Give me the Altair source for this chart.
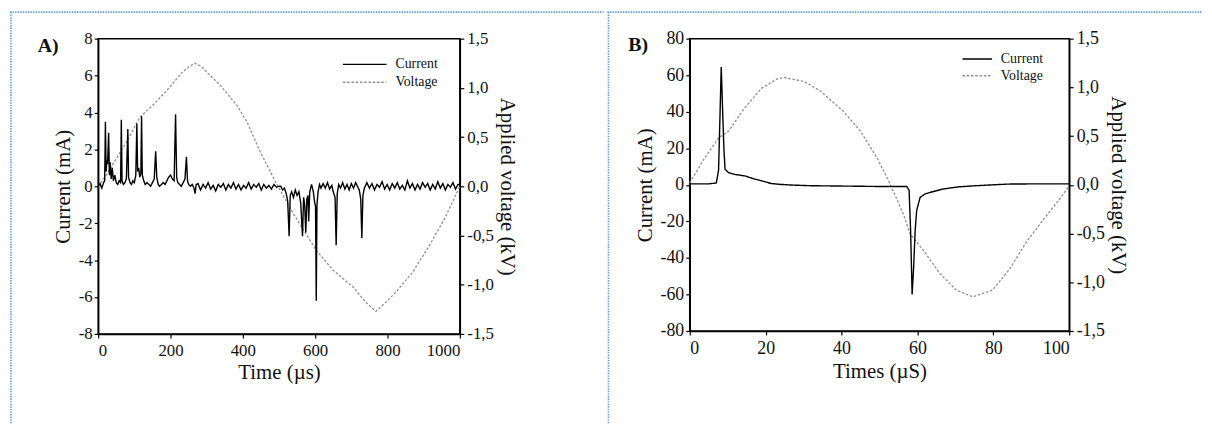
import altair as alt
import pandas as pd

# ---------------- Panel A data (time in µs, current in mA, voltage in kV) ----------------
time_a = [
    0, 5, 10, 15, 18, 20, 22, 24, 26, 29, 31, 33, 36, 39, 42, 46, 50, 54, 58,
    62, 64, 66, 70, 74, 78, 82, 84, 88, 92, 96, 100, 104, 107, 109, 112, 115, 118, 120, 122, 126, 130,
    135, 140, 145, 150, 155, 159, 162, 166, 170, 175, 180, 185, 190, 195, 200, 205, 210, 214, 217, 220,
    225, 230, 235, 240, 244, 247, 250, 255, 260, 265, 268, 271,
    276, 283, 290, 297, 304, 311, 318, 325, 332, 339, 346, 353, 360, 367, 374, 381, 388, 395, 402, 409,
    416, 423, 430, 437, 444, 451, 458, 465, 472, 479, 486, 493, 500,
    505, 510, 515, 520, 524, 528, 531, 535, 540, 545, 550, 555, 560, 565, 568, 571, 574, 577, 580, 582,
    585, 590, 595, 598, 601, 603, 605, 608, 612, 616,
    622, 628, 634, 640, 646, 650, 655, 658, 661, 665,
    670, 676, 682, 688, 694, 700, 706, 712, 718, 722, 726, 729, 732, 736,
    743, 750, 757, 764, 771, 778, 785, 792, 799, 806, 813, 820, 827, 834, 841, 848, 855, 862, 869, 876,
    883, 890, 897, 904, 911, 918, 925, 932, 939, 946, 953, 960, 967, 974, 981, 988, 995, 1000,
]
current_a = [
    0.0, 0.15, -0.1, 0.2, 0.3, 3.5, 0.8, 1.4, 1.2, 2.9, 0.6, 1.3, 0.4, 1.0, 0.3, 0.6, 0.2, 0.1, 0.3,
    0.2, 3.6, 0.3, 0.1, 0.2, 0.4, 3.1, 0.5, 0.2, 0.1, 0.3, 0.2, 0.6, 3.4, 0.8, 1.0, 0.5, 0.7, 3.8, 0.6, 0.3, 0.1,
    0.2, 0.1, 0.0, 0.2, 0.4, 1.9, 0.5, 0.1, 0.0, 0.1, 0.2, 0.1, 0.3, 0.5, 0.6, 0.4, 0.3, 3.9, 0.5, 0.2,
    0.1, 0.0, 0.2, 0.4, 1.6, 0.3, 0.1, 0.0, 0.1, -0.1, -0.4, 0.1,
    0.15, -0.2, 0.1, -0.1, 0.2, -0.15, 0.05, -0.25, 0.1, -0.05, 0.15, -0.2, 0.1, -0.1, 0.2, -0.15, 0.1, -0.2, 0.05, -0.1,
    0.2, -0.15, 0.1, -0.05, 0.15, -0.2, 0.1, -0.1, 0.05, -0.15, 0.1, -0.05, 0.0,
    0.0, -0.2, -0.1, -0.4, -0.8, -2.7, -0.5, -0.3, -0.6, -0.2, -0.5, -0.3, -0.9, -2.7, -0.6, -1.0, -2.5, -0.7, -0.5, -1.9,
    -0.3, 0.1, -0.3, -0.8, -1.1, -6.2, -1.0, -0.3, 0.1, -0.1,
    0.15, -0.1, 0.2, -0.15, 0.05, -0.3, -0.6, -3.2, -0.4, 0.1,
    -0.1, 0.2, -0.15, 0.1, -0.2, 0.15, -0.1, 0.2, -0.05, -0.2, -0.7, -2.8, -0.5, -0.1,
    0.2, -0.1, 0.15, -0.2, 0.1, -0.05, 0.25, -0.15, 0.1, -0.2, 0.15, -0.1, 0.2, -0.15, 0.05, -0.2, 0.3, -0.1, 0.15, -0.2,
    0.1, -0.15, 0.2, -0.05, 0.15, -0.2, 0.1, -0.15, 0.25, -0.1, 0.15, -0.2, 0.1, -0.05, 0.2, -0.15, 0.1, 0.1,
]
vtime_a = [0, 20, 40, 80, 115, 150, 184, 210, 230, 250, 266, 285, 303, 339, 384, 412, 448, 494,
           540, 557, 603, 649, 704, 740, 768, 795, 822, 868, 913, 959, 1000]
voltage_a = [0.0, 0.10, 0.22, 0.46, 0.70, 0.82, 0.95, 1.06, 1.15, 1.21, 1.25, 1.22, 1.15, 1.02, 0.82, 0.65, 0.35, 0.02,
             -0.28, -0.38, -0.65, -0.85, -1.02, -1.18, -1.27, -1.18, -1.08, -0.88, -0.62, -0.32, 0.0]

# ---------------- Panel B data (time in µS, current in mA, voltage in kV) ----------------
time_b = [0, 5, 7.0, 7.6, 8.0, 8.3, 8.6, 9.0, 9.3, 10.2,
          12, 14.5, 17, 18.9, 21.5, 24, 27.6, 32, 40.6, 49.3,
          55, 57.2, 57.8, 58.2, 58.6, 59.0, 59.4, 59.8, 60.7, 62,
          63.3, 66.7, 71, 75.4, 80, 84, 90, 100]
current_b = [0.5, 0.5, 1.0, 8, 40, 64.5, 45, 20, 8.5, 6.7,
             5.6, 4.9, 3.2, 2.2, 0.7, 0.2, -0.2, -0.5, -0.7, -0.9,
             -0.9, -0.9, -3, -25, -60, -45, -25, -14, -6.9, -5.0,
             -4.2, -2.3, -1.1, -0.5, 0.0, 0.4, 0.5, 0.5]
vtime_b = [0, 4, 7.6, 10.2, 14.5, 18.9, 23.2, 25, 30.2, 34.5, 40.6, 45, 49.3, 52.8, 56.3, 58,
           61.5, 65.9, 70.2, 74.6, 79.8, 84.2, 88.5, 92.9, 97.2, 100]
voltage_b = [0.02, 0.28, 0.48, 0.55, 0.79, 0.99, 1.09, 1.10, 1.06, 0.96, 0.75, 0.55, 0.28, 0.01, -0.30, -0.50,
             -0.67, -0.91, -1.08, -1.15, -1.08, -0.87, -0.60, -0.37, -0.16, -0.01]

# ---------------- Tick values / labels ----------------
x_ticks_a = [0, 200, 400, 600, 800, 1000]
y_ticks_a = [-8, -6, -4, -2, 0, 2, 4, 6, 8]
x_ticks_b = [0, 20, 40, 60, 80, 100]
y_ticks_b = [-80, -60, -40, -20, 0, 20, 40, 60, 80]
v_ticks = [-1.5, -1.0, -0.5, 0.0, 0.5, 1.0, 1.5]
series_names = ["Current", "Voltage"]

FONT = "Liberation Serif"
INK = "#111111"
BORDER = "#5b9bd5"
INT_LABEL = "replace(format(datum.value, 'd'), '\u2212', '-')"
KV_LABEL = "replace(replace(format(datum.value, '.1f'), '.', ','), '\u2212', '-')"


def panel(t_cur, cur, t_volt, volt, x_ticks, y_ticks, x_title, w, h,
          leg_x, leg_y, sym_path, sym_size, tag, tag_x, tag_y, box, lab_size):
    cur_df = pd.DataFrame({"t": t_cur, "value": cur, "series": "Current"})
    volt_df = pd.DataFrame({"t": t_volt, "value": volt, "series": "Voltage"})

    legend = alt.Legend(title=None, orient="none", legendX=leg_x, legendY=leg_y,
                        symbolType=sym_path, symbolSize=sym_size, symbolStrokeWidth=1.4,
                        labelFont=FONT, labelFontSize=14, labelColor=INK, labelOffset=8,
                        rowPadding=0, padding=0)
    color = alt.Color("series:N", scale=alt.Scale(domain=series_names, range=["#000000", "#8f8f8f"]),
                      legend=legend)
    dash = alt.StrokeDash("series:N", scale=alt.Scale(domain=series_names, range=[[1, 0], [2.5, 1.8]]),
                          legend=legend)

    x = alt.X("t:Q", scale=alt.Scale(domain=[x_ticks[0], x_ticks[-1]], nice=False, zero=False),
              axis=alt.Axis(values=x_ticks, title=x_title, labelExpr=INT_LABEL, labelPadding=5,
                            titlePadding=3, labelFontSize=lab_size))

    volt_line = alt.Chart(volt_df).mark_line(strokeWidth=1.3).encode(
        x=x,
        y=alt.Y("value:Q", scale=alt.Scale(domain=[-1.5, 1.5], nice=False),
                axis=alt.Axis(orient="right", values=v_ticks, title="Applied voltage (kV)",
                              labelExpr=KV_LABEL,
                              labelPadding=3, titlePadding=3, labelFontSize=lab_size)),
        color=color, strokeDash=dash,
    )
    cur_line = alt.Chart(cur_df).mark_line(strokeWidth=1.4).encode(
        x=x,
        y=alt.Y("value:Q", scale=alt.Scale(domain=[y_ticks[0], y_ticks[-1]], nice=False),
                axis=alt.Axis(orient="left", values=y_ticks, title="Current (mA)", labelExpr=INT_LABEL,
                              labelPadding=2, titlePadding=5, labelFontSize=lab_size)),
        color=color, strokeDash=dash,
    )

    one = pd.DataFrame({"k": [0]})
    x_left, x_right, y_top, y_bot = box
    top_rule = alt.Chart(one).mark_rule(color=BORDER, strokeWidth=1.6, strokeDash=[1.4, 1.2]).encode(
        x=alt.value(x_left), x2=alt.value(x_right), y=alt.value(y_top))
    left_rule = alt.Chart(one).mark_rule(color=BORDER, strokeWidth=1.6, strokeDash=[1.4, 1.2]).encode(
        x=alt.value(x_left + 1), y=alt.value(y_top), y2=alt.value(y_bot))
    tag_text = alt.Chart(one).mark_text(text=tag, font=FONT, fontSize=20, fontWeight="bold",
                                        align="left", baseline="middle", color=INK).encode(
        x=alt.value(tag_x), y=alt.value(tag_y))

    return alt.layer(volt_line, cur_line, top_rule, left_rule, tag_text).resolve_scale(
        y="independent").properties(width=w, height=h)


chart_a = panel(time_a, current_a, vtime_a, voltage_a, x_ticks_a, y_ticks_a, "Time (µs)",
                365, 298, 270, 15, "M-3.4,0H1", 400, "A)", -61, 7.5,
                (-89, 510, -26.75, 388.5), 17)
chart_b = panel(time_b, current_b, vtime_b, voltage_b, x_ticks_b, y_ticks_b, "Times (µS)",
                383, 295, 287, 11, "M-2.5,0H1", 289, "B)", -62, 6.5,
                (-83, 517, -26.75, 388.5), 18)

chart = alt.hconcat(chart_a, chart_b, spacing=0).resolve_scale(
    color="independent", strokeDash="independent"
).configure_view(
    stroke="black", strokeWidth=1.5
).configure_axis(
    domainColor="black", domainWidth=1.5, tickColor="black", tickWidth=1.2, tickSize=4,
    grid=False, labelFont=FONT, titleFont=FONT, labelColor=INK, titleColor=INK,
    titleFontSize=21, titleFontWeight="normal", labelFontSize=17,
).properties(padding=0, background="white")

chart.save("out.html", embed_options={"renderer": "svg", "actions": False})
